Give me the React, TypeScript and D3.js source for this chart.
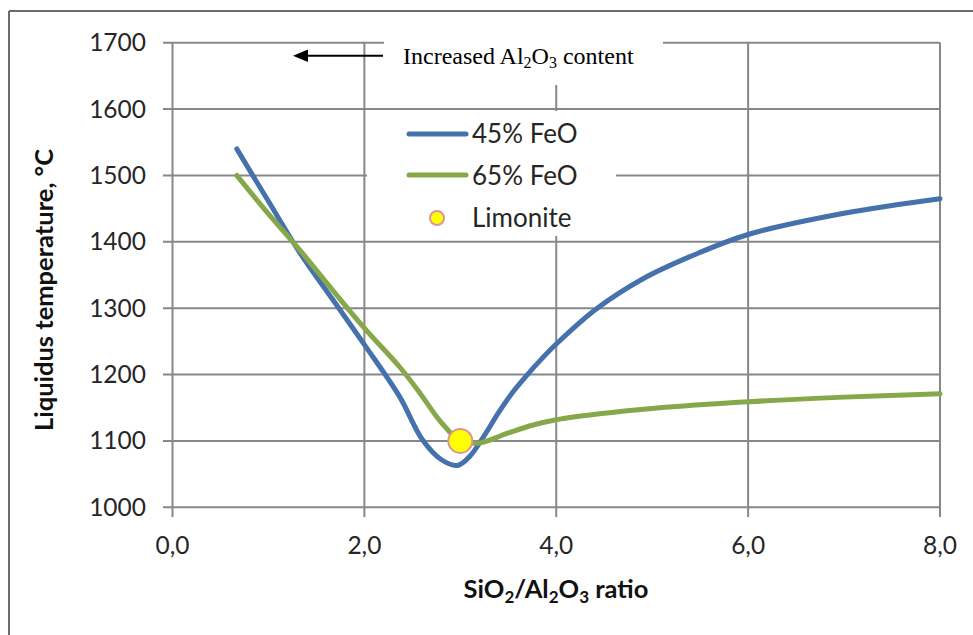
import React from "react";
import * as d3 from "d3";

const xTicks = [0, 2, 4, 6, 8];
const yTicks = [1000, 1100, 1200, 1300, 1400, 1500, 1600, 1700];

const ratio45 = [0.67, 1.0, 1.33, 1.67, 2.0, 2.37, 2.6, 2.8, 2.97, 3.1, 3.25, 3.4, 3.55, 3.7, 3.85, 4.0, 4.4, 4.9, 5.4, 6.0, 7.0, 8.0];
const temp45 = [1540, 1461, 1383, 1313, 1245, 1166, 1103, 1072, 1063, 1077, 1108, 1143, 1174, 1200, 1224, 1246, 1297, 1344, 1378, 1411, 1443, 1465];

const ratio65 = [0.67, 1.0, 1.33, 1.67, 2.0, 2.37, 2.58, 2.79, 3.0, 3.2, 3.5, 3.76, 4.0, 4.45, 5.0, 6.0, 7.0, 8.0];
const temp65 = [1500, 1442, 1387, 1327, 1270, 1211, 1172, 1130, 1100, 1097, 1112, 1124, 1132, 1141, 1149, 1159, 1166, 1171];

const limoniteX = [3.0];
const limoniteY = [1100];

const seriesNames = ["45% FeO", "65% FeO", "Limonite"];

const BLUE = "#4572AC";
const GREEN = "#87A84A";
const GRID = "#878787";
const FONT = "Lato, 'Open Sans', sans-serif";

export default function App() {
  const W = 973, H = 635;
  const x = d3.scaleLinear().domain([0, 8]).range([172.5, 940]);
  const y = d3.scaleLinear().domain([1000, 1700]).range([507.3, 42.7]);

  const line = d3
    .line<[number, number]>()
    .x((d) => x(d[0]))
    .y((d) => y(d[1]))
    .curve(d3.curveCatmullRom.alpha(0.5));

  const d45 = line(ratio45.map((r, i) => [r, temp45[i]] as [number, number])) || "";
  const d65 = line(ratio65.map((r, i) => [r, temp65[i]] as [number, number])) || "";

  return (
    <svg width={W} height={H} style={{ position: "absolute", left: 0, top: 0, background: "#fff" }}>
      {/* frame */}
      <line x1={9} y1={11} x2={W} y2={11} stroke="#6b6b6b" strokeWidth={2} />
      <line x1={9} y1={11} x2={9} y2={H} stroke="#6b6b6b" strokeWidth={2} />

      {/* grid */}
      {yTicks.map((t) => (
        <line key={"gy" + t} x1={163} x2={x(8)} y1={y(t)} y2={y(t)} stroke={GRID} strokeWidth={2} />
      ))}
      {xTicks.map((t) => (
        <line key={"gx" + t} x1={x(t)} x2={x(t)} y1={y(1700)} y2={517} stroke={GRID} strokeWidth={2} />
      ))}

      {/* y tick labels */}
      {yTicks.map((t) => (
        <text key={"ty" + t} x={146} y={y(t) + 8.5} textAnchor="end" fontFamily={FONT} fontSize={24.5} fill="#262626">
          {t}
        </text>
      ))}
      {/* x tick labels */}
      {xTicks.map((t) => (
        <text key={"tx" + t} x={x(t)} y={554} textAnchor="middle" fontFamily={FONT} fontSize={24.5} fill="#262626">
          {d3.format(".1f")(t).replace(".", ",")}
        </text>
      ))}

      {/* axis titles */}
      <text x={556} y={598} textAnchor="middle" fontFamily={FONT} fontSize={25.5} fontWeight="bold" fill="#111">
        SiO<tspan fontSize={17} dy={5}>2</tspan>
        <tspan dy={-5}>/Al</tspan>
        <tspan fontSize={17} dy={5}>2</tspan>
        <tspan dy={-5}>O</tspan>
        <tspan fontSize={17} dy={5}>3</tspan>
        <tspan dy={-5}> ratio</tspan>
      </text>
      <text
        transform="translate(53,290) rotate(-90)"
        textAnchor="middle"
        fontFamily={FONT}
        fontSize={25.5}
        fontWeight="bold"
        fill="#111"
      >
        Liquidus temperature, °C
      </text>

      {/* curves */}
      <path d={d45} fill="none" stroke={BLUE} strokeWidth={5} strokeLinecap="round" strokeLinejoin="round" />
      <path d={d65} fill="none" stroke={GREEN} strokeWidth={5} strokeLinecap="round" strokeLinejoin="round" />

      {/* limonite */}
      {limoniteX.map((v, i) => (
        <circle key={"lm" + i} cx={x(v)} cy={y(limoniteY[i])} r={12} fill="#FFFF00" stroke="#D99694" strokeWidth={2} />
      ))}

      {/* annotation box */}
      <rect x={384} y={28} width={279} height={57} fill="#fff" />
      <line x1={383} y1={55.7} x2={303} y2={55.7} stroke="#000" strokeWidth={2} />
      <path d="M293,55.7 L308,49.5 L308,62 Z" fill="#000" />
      <text x={403} y={64} fontFamily="'Liberation Serif', 'Times New Roman', serif" fontSize={24} fill="#000">
        Increased Al<tspan fontSize={16} dy={4}>2</tspan>
        <tspan dy={-4}>O</tspan>
        <tspan fontSize={16} dy={4}>3</tspan>
        <tspan dy={-4}> content</tspan>
      </text>

      {/* legend */}
      <rect x={367} y={111} width={249} height={125} fill="#fff" />
      <line x1={409} x2={466} y1={134} y2={134} stroke={BLUE} strokeWidth={5} strokeLinecap="round" />
      <line x1={409} x2={466} y1={175} y2={175} stroke={GREEN} strokeWidth={5} strokeLinecap="round" />
      <circle cx={437} cy={218} r={7} fill="#FFFF00" stroke="#D99694" strokeWidth={2} />
      {seriesNames.map((n, i) => (
        <text key={n} x={472} y={143 + i * 42} fontFamily={FONT} fontSize={26} fill="#262626">
          {n}
        </text>
      ))}
    </svg>
  );
}
